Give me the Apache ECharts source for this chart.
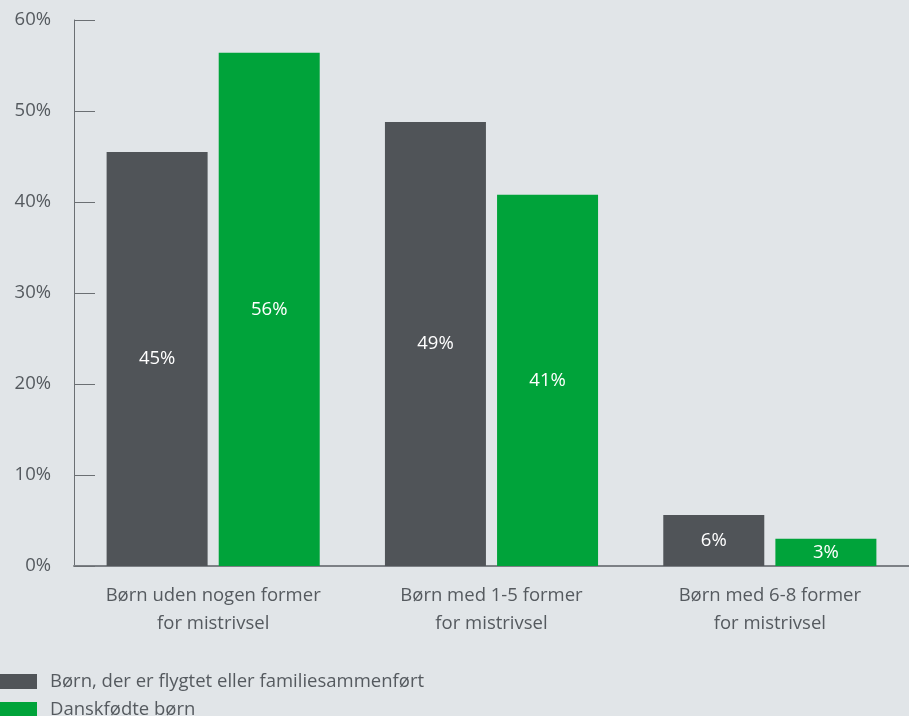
<!DOCTYPE html>
<html>
<head>
<meta charset="utf-8">
<script src="https://cdn.jsdelivr.net/npm/echarts@6/dist/echarts.min.js"></script>
<style>
    html, body { margin: 0; padding: 0; background: #e1e5e8; }
    #chart { width: 909px; height: 716px; }
</style>
</head>
<body>
<div id="chart"></div>
<script>
    const categories = ['Børn uden nogen former\nfor mistrivsel', 'Børn med 1-5 former\nfor mistrivsel', 'Børn med 6-8 former\nfor mistrivsel']
    const seriesNames = ['Børn, der er flygtet eller familiesammenført', 'Danskfødte børn']
    const refugeeValues = [45.5, 48.8, 5.6]
    const danishValues = [56.4, 40.8, 3.0]
    const refugeeLabels = ['45%', '49%', '6%']
    const danishLabels = ['56%', '41%', '3%']

    const textColor = '#555a5f'
    const fontFamily = '"Open Sans", Roboto, sans-serif'
    const fontSize = 18.5

    const chart = echarts.init(document.getElementById('chart'))

    // one legend per row, stacked at the bottom left
    const legendRow = (name, top) => ({
        orient: 'vertical',
        left: 0,
        top,
        padding: 0,
        itemWidth: 37,
        itemHeight: 15,
        icon: 'rect',
        data: [name],
        textStyle: {
            color: textColor,
            fontSize,
            fontFamily,
            padding: [0, 0, 0, 8]
        }
    })

    const option = {
        backgroundColor: '#e1e5e8',
        animation: false,
        grid: {
            left: 74,
            top: 20,
            width: 840,
            height: 546
        },
        legend: [
            legendRow(seriesNames[0], 672),
            legendRow(seriesNames[1], 700)
        ],
        xAxis: {
            type: 'category',
            data: categories,
            axisLine: { lineStyle: { color: '#7c8085', width: 2 } },
            axisTick: {
                inside: true,
                length: 13,
                lineStyle: { color: '#7c8085', width: 1 }
            },
            axisLabel: {
                interval: 0,
                hideOverlap: false,
                color: textColor,
                fontSize,
                fontFamily,
                lineHeight: 28,
                margin: 16
            }
        },
        yAxis: {
            type: 'value',
            min: 0,
            max: 60,
            interval: 10,
            axisLine: { show: true, lineStyle: { color: '#6b6f73', width: 1 } },
            axisTick: {
                show: true,
                inside: true,
                length: 21,
                lineStyle: { color: '#6b6f73', width: 1 }
            },
            splitLine: { show: false },
            axisLabel: {
                formatter: '{value}%',
                color: textColor,
                fontSize,
                fontFamily,
                margin: 23
            }
        },
        series: [
            {
                name: seriesNames[0],
                type: 'bar',
                barWidth: 101,
                barGap: '11%',
                itemStyle: { color: '#505458' },
                label: {
                    show: true,
                    position: 'inside',
                    color: '#ffffff',
                    fontSize,
                    fontFamily,
                    formatter: p => refugeeLabels[p.dataIndex]
                },
                data: refugeeValues
            },
            {
                name: seriesNames[1],
                type: 'bar',
                barWidth: 101,
                barGap: '11%',
                itemStyle: { color: '#00a33a' },
                label: {
                    show: true,
                    position: 'inside',
                    color: '#ffffff',
                    fontSize,
                    fontFamily,
                    formatter: p => danishLabels[p.dataIndex]
                },
                data: danishValues
            }
        ]
    }
    chart.setOption(option)
</script>
</body>
</html>
